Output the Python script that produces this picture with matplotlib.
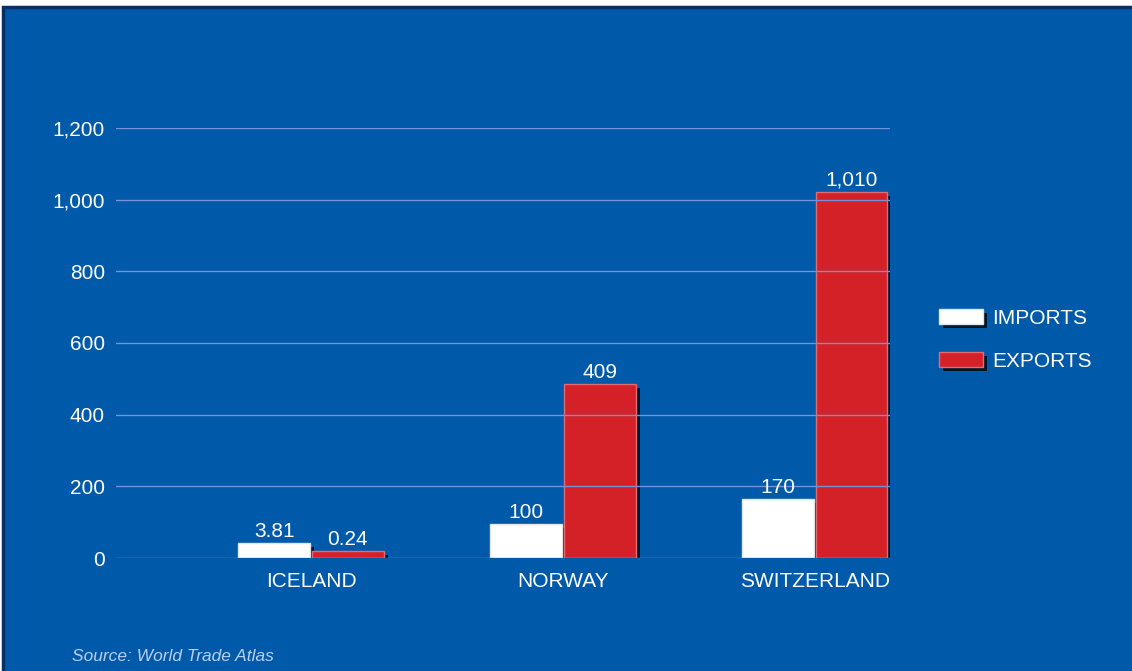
import numpy as np
import matplotlib
matplotlib.use("Agg")
import matplotlib.pyplot as plt
import matplotlib.patheffects as pe
from matplotlib import font_manager
from matplotlib.patches import Rectangle

# data as drawn in the picture (bars) and as printed (labels)
countries = ["ICELAND", "NORWAY", "SWITZERLAND"]
imports_drawn = [42, 95, 165]
exports_drawn = [20, 486, 1021]
imports_labels = ["3.81", "100", "170"]
exports_labels = ["0.24", "409", "1,010"]
yticks = [0, 200, 400, 600, 800, 1000, 1200]
ytick_labels = ["0", "200", "400", "600", "800", "1,000", "1,200"]
source = "Source: World Trade Atlas"

# pick a narrow sans if there is one
names = {f.name for f in font_manager.fontManager.ttflist}
fam = ["Liberation Sans"]
fs = 15
for cand in ["Liberation Sans Narrow", "Arial Narrow"]:
    if cand in names:
        fam = [cand]
        fs = 17
        break
plt.rcParams["font.family"] = fam + ["DejaVu Sans"]

blue = "#0059A9"
red = "#D42128"
grid_c = "#7393D6"

W, H = 1132, 671
fig = plt.figure(figsize=(W / 100, H / 100), dpi=100, facecolor="white")

# blue panel with dark border
fig.patches.append(Rectangle((3 / W, -0.01), 1.0, (H - 7) / H + 0.01,
                             transform=fig.transFigure, facecolor=blue,
                             edgecolor="#0A2E66", linewidth=2.5, zorder=-5))

ax = fig.add_axes([116 / W, 1 - 558 / H, (890 - 116) / W, (558 - 128) / H])
ax.set_facecolor("none")

x = np.arange(len(countries))
w = 0.283
shadow = [pe.SimplePatchShadow(offset=(3, -3), shadow_rgbFace="black", alpha=0.75),
          pe.Normal()]

b1 = ax.bar(x - w / 2 - 0.005, imports_drawn, w, color="white", edgecolor="#E4E4E4",
            linewidth=1, label="IMPORTS", zorder=2)
b2 = ax.bar(x + w / 2 + 0.005, exports_drawn, w, color=red, edgecolor="#E46A72",
            linewidth=1, label="EXPORTS", zorder=2)
for bc in (b1, b2):
    for r in bc:
        r.set_path_effects(shadow)

for bc, labs in ((b1, imports_labels), (b2, exports_labels)):
    for r, lab in zip(bc, labs):
        ax.annotate(lab, (r.get_x() + r.get_width() / 2, r.get_height()),
                    xytext=(0, 4.5), textcoords="offset points", ha="center",
                    va="baseline", color="white", fontsize=fs, zorder=4,
                    annotation_clip=False)

for yv in yticks:
    ax.axhline(yv, color=grid_c, linewidth=1, zorder=3)

ax.set_ylim(0, 1200)
ax.set_xlim(-0.774, 2.298)
ax.set_yticks(yticks)
ax.set_yticklabels(ytick_labels)
ax.set_xticks(x)
ax.set_xticklabels(countries)
ax.tick_params(axis="both", length=0, colors="white", labelsize=fs)
ax.tick_params(axis="y", pad=8)
ax.tick_params(axis="x", pad=10)
for s in ax.spines.values():
    s.set_visible(False)

leg = ax.legend(handles=[b1, b2], loc="upper left",
                bbox_to_anchor=(939 / W, 1 - 309 / H), bbox_transform=fig.transFigure,
                frameon=False, fontsize=fs, handlelength=2.1, handleheight=0.72,
                handletextpad=0.45, labelspacing=1.15, borderpad=0, borderaxespad=0)
for t in leg.get_texts():
    t.set_color("white")

fig.text(72 / W, 1 - 661 / H, source, fontsize=12.5, style="italic",
         color="#BCCFEE", ha="left", va="baseline")

fig.savefig("out.png", dpi=100, facecolor=fig.get_facecolor())
